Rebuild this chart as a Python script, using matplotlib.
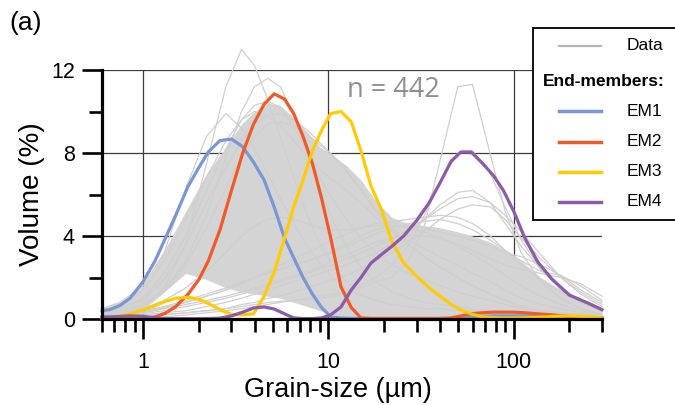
import matplotlib
matplotlib.use("Agg")
import matplotlib.pyplot as plt
from matplotlib.lines import Line2D
from matplotlib.patches import Rectangle
from matplotlib.ticker import FixedLocator, NullFormatter

plt.rcParams['font.family'] = ['Liberation Sans', 'DejaVu Sans']

# ---------------- data ----------------
# grain-size grid for end-members (um)
em_size = [0.6, 0.66, 0.75, 0.85, 1.0, 1.16, 1.32, 1.5, 1.75, 2.0, 2.25, 2.6, 3.0, 3.45,
           3.95, 4.5, 5.1, 5.8, 6.5, 7.3, 8.2, 9.2, 10.3, 11.7, 13.3, 15, 17, 19.3, 22,
           25.5, 30, 35, 40, 46, 52, 59, 68, 78, 88, 100, 115, 135, 160, 200, 250, 300]

em1 = [0.4, 0.45, 0.65, 1.0, 1.8, 2.8, 3.9, 5.0, 6.4, 7.3, 8.05, 8.6, 8.67, 8.3,
       7.55, 6.7, 5.4, 3.9, 2.95, 2.0, 1.2, 0.55, 0.1, 0.05, 0.03, 0.03, 0.03, 0.03, 0.03,
       0.03, 0.03, 0.03, 0.03, 0.03, 0.05, 0.08, 0.12, 0.15, 0.15, 0.15, 0.15, 0.15, 0.12, 0.1, 0.07, 0.05]
em2 = [0.02, 0.02, 0.02, 0.02, 0.03, 0.1, 0.28, 0.6, 1.2, 1.9, 2.8, 4.3, 6.2, 8.0,
       9.4, 10.35, 10.85, 10.6, 9.9, 8.8, 7.5, 5.8, 3.9, 1.55, 0.55, 0.05, 0.02, 0.02, 0.02,
       0.02, 0.02, 0.02, 0.02, 0.05, 0.15, 0.25, 0.3, 0.33, 0.33, 0.33, 0.3, 0.25, 0.2, 0.12, 0.08, 0.05]
em3 = [0.08, 0.1, 0.15, 0.25, 0.43, 0.65, 0.85, 1.0, 1.05, 0.95, 0.75, 0.45, 0.22, 0.2,
       0.25, 1.1, 2.25, 3.9, 5.4, 6.7, 8.1, 9.1, 9.9, 10.0, 9.5, 8.1, 6.4, 5.3, 3.75,
       2.7, 2.05, 1.5, 1.1, 0.7, 0.43, 0.25, 0.1, 0.06, 0.05, 0.05, 0.06, 0.08, 0.12, 0.15, 0.12, 0.05]
em4 = [0.1, 0.1, 0.12, 0.15, 0.13, 0.05, 0.02, 0.02, 0.02, 0.02, 0.02, 0.04, 0.15, 0.33,
       0.53, 0.58, 0.48, 0.25, 0.05, 0.02, 0.02, 0.05, 0.2, 0.58, 1.4, 2.0, 2.7, 3.1, 3.5,
       4.0, 4.75, 5.6, 6.55, 7.6, 8.05, 8.05, 7.5, 6.9, 6.2, 5.2, 3.9, 2.75, 1.95, 1.15, 0.78, 0.45]

em_names = ['EM1', 'EM2', 'EM3', 'EM4']
em_colors = ['#7b97d3', '#f05a28', '#ffcb05', '#8e5ba9']

# grain-size grid for measured samples (um)
data_size = [0.6, 0.75, 1.0, 1.3, 1.7, 2.2, 2.8, 3.4, 4.0, 4.7, 5.5, 6.5, 7.7, 9.0, 10.5,
             12.5, 15, 18, 22, 27, 33, 40, 50, 60, 75, 90, 110, 140, 180, 230, 300]

# envelope of the densely overlapping sample curves
dense_upper = [0.55, 0.8, 1.6, 3.3, 5.2, 7.0, 8.3, 9.4, 10.0, 10.4, 10.3, 9.7, 9.0, 8.3, 7.9,
               7.4, 6.7, 5.7, 4.9, 4.6, 4.5, 4.4, 4.2, 4.0, 3.7, 3.3, 2.8, 2.0, 1.4, 1.0, 0.55]
dense_lower = [0.15, 0.2, 0.45, 1.3, 2.2, 1.9, 1.5, 1.3, 1.2, 1.1, 1.0, 0.8, 0.6, 0.4, 0.2,
               0.1, 0.05, 0.05, 0.05, 0.05, 0.05, 0.05, 0.05, 0.05, 0.05, 0.05, 0.05, 0.05, 0.05, 0.05, 0.05]

# individual sample curves
samples = [
    [0.2, 0.3, 0.6, 1.5, 3.6, 7.5, 11.2, 13.0, 12.2, 10.6, 8.8, 6.8, 5.0, 3.6, 2.6,
     1.8, 1.2, 0.9, 0.7, 0.6, 0.5, 0.5, 0.4, 0.4, 0.3, 0.3, 0.2, 0.2, 0.1, 0.1, 0.05],
    [0.3, 0.4, 0.7, 1.4, 2.8, 5.0, 7.8, 10.0, 11.2, 11.6, 11.2, 9.8, 8.0, 6.3, 4.8,
     3.5, 2.5, 1.8, 1.3, 1.0, 0.8, 0.7, 0.6, 0.5, 0.4, 0.3, 0.3, 0.2, 0.2, 0.1, 0.1],
    [0.5, 0.8, 1.6, 3.2, 6.3, 8.8, 9.9, 9.2, 8.2, 7.0, 5.8, 4.6, 3.5, 2.7, 2.0,
     1.5, 1.1, 0.9, 0.7, 0.6, 0.5, 0.5, 0.4, 0.4, 0.3, 0.3, 0.2, 0.2, 0.1, 0.1, 0.05],
    [0.3, 0.5, 1.0, 2.2, 4.0, 6.2, 8.2, 9.6, 10.3, 10.5, 10.2, 9.3, 8.0, 6.8, 5.8,
     4.8, 3.9, 3.2, 2.6, 2.2, 1.9, 1.6, 1.3, 1.1, 0.9, 0.7, 0.5, 0.35, 0.25, 0.15, 0.1],
    [0.4, 0.7, 1.4, 2.8, 4.8, 6.8, 8.6, 9.6, 10.0, 9.8, 9.3, 8.6, 7.8, 7.2, 6.7,
     6.2, 5.6, 4.9, 4.2, 3.6, 3.0, 2.5, 2.0, 1.6, 1.2, 0.9, 0.6, 0.4, 0.3, 0.2, 0.1],
    [0.2, 0.3, 0.6, 1.3, 2.6, 4.4, 6.3, 7.8, 8.8, 9.4, 9.5, 9.3, 8.9, 8.4, 7.9,
     7.2, 6.3, 5.3, 4.4, 3.8, 3.4, 3.0, 2.6, 2.2, 1.8, 1.4, 1.0, 0.7, 0.5, 0.3, 0.2],
    [0.05, 0.05, 0.1, 0.1, 0.2, 0.3, 0.4, 0.5, 0.6, 0.7, 0.8, 0.9, 1.0, 1.1, 1.2,
     1.3, 1.5, 1.8, 2.0, 2.8, 4.5, 7.6, 11.2, 11.3, 7.9, 5.2, 3.2, 1.8, 1.0, 0.5, 0.2],
    [0.1, 0.1, 0.15, 0.2, 0.3, 0.4, 0.5, 0.6, 0.7, 0.8, 0.85, 0.9, 0.95, 1.0, 1.1,
     1.2, 1.6, 2.0, 2.6, 3.5, 5.0, 6.6, 8.0, 8.1, 7.0, 5.4, 3.8, 2.4, 1.4, 0.8, 0.4],
    [0.1, 0.1, 0.2, 0.3, 0.4, 0.6, 0.8, 1.0, 1.2, 1.4, 1.6, 1.8, 2.0, 2.2, 2.4,
     2.6, 2.9, 3.2, 3.6, 4.1, 4.8, 5.5, 6.1, 6.2, 5.6, 4.6, 3.5, 2.4, 1.5, 0.9, 0.4],
    [0.05, 0.1, 0.15, 0.2, 0.3, 0.4, 0.5, 0.7, 0.8, 1.0, 1.1, 1.3, 1.5, 1.7, 1.9,
     2.1, 2.4, 2.8, 3.2, 3.7, 4.2, 4.8, 5.3, 5.5, 5.4, 4.8, 3.9, 2.9, 2.0, 1.2, 0.6],
    [0.2, 0.3, 0.4, 0.6, 0.9, 1.2, 1.5, 1.8, 2.0, 2.2, 2.4, 2.6, 2.8, 3.0, 3.2,
     3.5, 3.8, 4.1, 4.4, 4.6, 4.7, 4.8, 4.6, 4.3, 3.8, 3.3, 2.8, 2.3, 2.1, 1.6, 0.9],
    [0.1, 0.2, 0.3, 0.5, 0.7, 0.9, 1.1, 1.3, 1.5, 1.7, 1.9, 2.1, 2.3, 2.5, 2.8,
     3.1, 3.4, 3.7, 3.9, 4.0, 4.0, 3.9, 3.6, 3.3, 2.9, 2.6, 2.4, 2.2, 2.0, 1.7, 1.1],
    [0.1, 0.15, 0.25, 0.4, 0.6, 0.8, 1.0, 1.2, 1.4, 1.6, 1.8, 2.0, 2.2, 2.4, 2.6,
     2.9, 3.2, 3.5, 3.9, 4.3, 4.8, 5.3, 5.8, 5.9, 5.6, 5.0, 4.2, 3.1, 2.0, 1.3, 0.7],
    [0.15, 0.2, 0.35, 0.55, 0.8, 1.1, 1.4, 1.7, 2.0, 2.3, 2.6, 2.9, 3.2, 3.5, 3.8,
     4.1, 4.4, 4.6, 4.7, 4.8, 4.9, 5.0, 4.9, 4.6, 4.0, 3.3, 2.6, 1.9, 1.3, 0.8, 0.4],
    [0.1, 0.2, 0.3, 0.5, 0.8, 1.1, 1.4, 1.7, 2.0, 2.2, 2.4, 2.6, 2.8, 3.0, 3.3,
     3.6, 4.0, 4.3, 4.5, 4.5, 4.4, 4.2, 4.0, 3.8, 3.5, 3.2, 3.0, 2.6, 2.1, 1.4, 0.8],
    [0.2, 0.3, 0.5, 0.9, 1.5, 2.3, 3.2, 4.0, 4.5, 4.8, 4.9, 4.8, 4.6, 4.4, 4.3,
     4.3, 4.4, 4.5, 4.5, 4.4, 4.2, 3.9, 3.5, 3.1, 2.6, 2.1, 1.6, 1.1, 0.7, 0.4, 0.2],
    [0.3, 0.5, 0.9, 1.9, 3.6, 5.6, 7.3, 8.6, 9.4, 9.8, 9.9, 9.6, 9.1, 8.5, 7.9,
     7.1, 6.2, 5.2, 4.3, 3.6, 3.0, 2.5, 2.0, 1.6, 1.2, 0.9, 0.6, 0.4, 0.3, 0.2, 0.1],
]

n_label = 'n = 442'
x_ticks = [1, 10, 100]
x_tick_labels = ['1', '10', '100']
y_ticks = [0, 4, 8, 12]

# ---------------- figure ----------------
W, H = 675, 405
fig = plt.figure(figsize=(W / 100, H / 100), dpi=100)
ax = fig.add_axes([102 / W, 1 - 319 / H, 500 / W, 249 / H])

gray_fill = '#d4d4d4'
gray_line = '#cfcfcf'

ax.fill_between(data_size, dense_lower, dense_upper, color=gray_fill, lw=0, zorder=2)
for s in samples:
    ax.plot(data_size, s, color=gray_line, lw=0.9, zorder=2.5, clip_on=False)

for vals, c in zip([em1, em2, em3, em4], em_colors):
    ax.plot(em_size, vals, color=c, lw=2.3, zorder=4, clip_on=False,
            solid_joinstyle='round')

ax.set_xscale('log')
ax.set_xlim(0.6, 300)
ax.set_ylim(0, 12)

ax.set_xticks(x_ticks)
ax.set_xticklabels(x_tick_labels)
minor_x = [v * d for d in [0.1, 1, 10, 100] for v in range(2, 10)]
minor_x = [m for m in minor_x if 0.6 <= m <= 300]
ax.xaxis.set_minor_locator(FixedLocator(minor_x))
ax.xaxis.set_minor_formatter(NullFormatter())
ax.set_yticks(y_ticks)
ax.yaxis.set_minor_locator(FixedLocator([2, 6, 10]))

for side in ['top', 'right']:
    ax.spines[side].set_visible(False)
for side in ['left', 'bottom']:
    ax.spines[side].set_linewidth(2.3)
    ax.spines[side].set_zorder(6)

ax.tick_params(which='major', length=14.5, width=1.9, labelsize=15.5, color='black')
ax.tick_params(which='minor', length=9.4, width=1.9, color='black')
ax.tick_params(axis='x', which='major', pad=9)
ax.tick_params(axis='y', which='major', pad=5)

ax.grid(True, which='major', color='#3c3c3c', lw=0.9, zorder=1)
ax.set_axisbelow(True)

ax.set_xlabel('Grain-size (µm)', fontsize=19.5, labelpad=0)
ax.xaxis.set_label_coords((338 - 102) / 500, -0.232)
ax.xaxis.label.set_va('top')
ax.set_ylabel('Volume (%)', fontsize=20, labelpad=4)

ax.text(393 / W, 1 - 90 / H, n_label, transform=fig.transFigure, fontsize=19.5,
        color='#8f8f8f', ha='center', va='center', family=['Open Sans', 'DejaVu Sans'],
        zorder=7)

fig.text(9 / W, 1 - 23 / H, '(a)', fontsize=19, ha='left', va='center')

# legend drawn in figure pixels
def fx(px):
    return px / W

def fy(py):
    return 1 - py / H

fig.add_artist(Rectangle((fx(533), fy(220)), fx(680) - fx(533), fy(28) - fy(220),
                         transform=fig.transFigure, facecolor='white',
                         edgecolor='black', lw=1.3, zorder=10))
fig.add_artist(Line2D([fx(559), fx(601)], [fy(46), fy(46)], transform=fig.transFigure,
                      color='#b5b5b5', lw=1.6, zorder=11))
fig.text(fx(627), fy(46), 'Data', fontsize=12.5, ha='left', va='center', zorder=11)
fig.text(fx(543), fy(82), 'End-members:', fontsize=12.5, fontweight='bold',
         ha='left', va='center', zorder=11)
for i, (name, c) in enumerate(zip(em_names, em_colors)):
    yy = [111, 142, 172, 202][i]
    fig.add_artist(Line2D([fx(559), fx(601)], [fy(yy), fy(yy)], transform=fig.transFigure,
                          color=c, lw=2.5, zorder=11))
    fig.text(fx(627), fy(yy), name, fontsize=12.5, ha='left', va='center', zorder=11)

fig.savefig('out.png', dpi=100)
